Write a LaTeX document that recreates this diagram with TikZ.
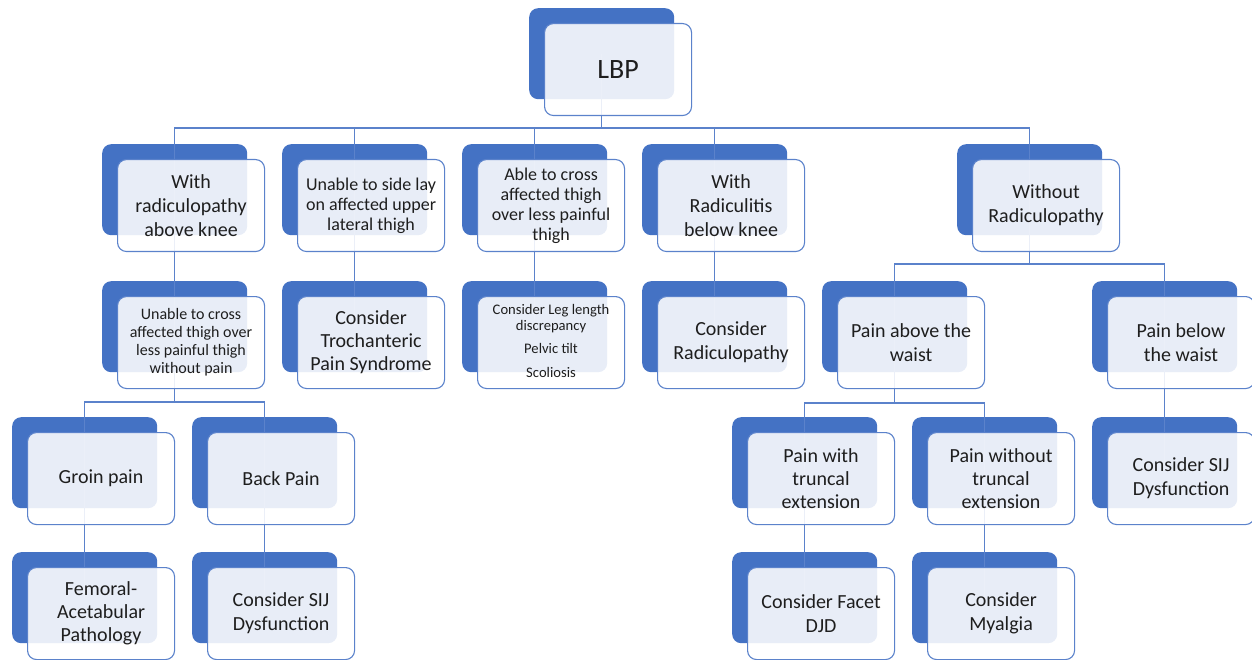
\documentclass[tikz,border=0pt]{standalone}
\usepackage{fontspec}
\setmainfont{Carlito}
\definecolor{bblue}{HTML}{4472C4}
\definecolor{lblue}{HTML}{5B82CB}
\definecolor{txt}{HTML}{1E1E1E}
\pgfdeclarelayer{backl}
\pgfdeclarelayer{connl}
\pgfsetlayers{backl,connl,main}
\tikzset{
  backbox/.style={anchor=north west, fill=bblue, draw=none, rounded corners=9pt,
    minimum width=145pt, minimum height=91pt, inner sep=0pt},
  frontbox/.style={anchor=north west, fill=white, fill opacity=0.88, text opacity=1,
    draw=lblue, line width=1.1pt, rounded corners=9pt, minimum width=147pt,
    minimum height=92pt, inner sep=0pt, align=center, text=txt},
  conn/.style={draw=lblue, line width=1.1pt},
  fT/.style={font=\fontsize{28}{32}\selectfont},
  fA/.style={font=\fontsize{20}{24}\selectfont},
  fAa/.style={font=\fontsize{20}{23}\selectfont},
  fB/.style={font=\fontsize{18}{20}\selectfont},
  fC/.style={font=\fontsize{16}{18}\selectfont},
  fD/.style={font=\fontsize{14.6}{16}\selectfont},
}
\newcommand\boxpair[5]{%
  \begin{pgfonlayer}{backl}\node[backbox] (#1) at (#2,#3) {};\end{pgfonlayer}
  \node[frontbox,#4] (#1f) at ({#2+15},{#3+15}) {#5};}
\begin{document}
\begin{tikzpicture}[x=1pt,y=-1pt]
\useasboundingbox (0,0) rectangle (1252,660);
% level 0
\boxpair{LBP}{529}{8}{fT}{LBP}
% level 1
\boxpair{A1}{102}{144}{fA}{With\\radiculopathy\\above knee}
\boxpair{A2}{282}{144}{fB}{Unable to side lay\\on affected upper\\lateral thigh}
\boxpair{A3}{462}{144}{fB}{Able to cross\\affected thigh\\over less painful\\thigh}
\boxpair{A4}{642}{144}{fA}{With\\Radiculitis\\below knee}
\boxpair{A5}{957}{144}{fA}{Without\\Radiculopathy}
% level 2
\boxpair{B1}{102}{281}{fC}{Unable to cross\\affected thigh over\\less painful thigh\\without pain}
\boxpair{B2}{282}{281}{fAa}{Consider\\Trochanteric\\Pain Syndrome}
\boxpair{B3}{462}{281}{fD}{\raisebox{-6pt}{\begin{tabular}{@{}c@{}}Consider Leg length\\discrepancy\\[7pt]Pelvic tilt\\[8pt]Scoliosis\end{tabular}}}
\boxpair{B4}{642}{281}{fA}{Consider\\Radiculopathy}
\boxpair{B5}{822}{281}{fA}{Pain above the\\waist}
\boxpair{B6}{1092}{281}{fA}{Pain below\\the waist}
% level 3
\boxpair{C1}{12}{417}{fA}{Groin pain}
\boxpair{C2}{192}{417}{fA}{Back Pain}
\boxpair{C3}{732}{417}{fAa}{Pain with\\truncal\\extension}
\boxpair{C4}{912}{417}{fAa}{Pain without\\truncal\\extension}
\boxpair{C5}{1092}{417}{fA}{Consider SIJ\\Dysfunction}
% level 4
\boxpair{D1}{12}{552}{fAa}{Femoral-\\Acetabular\\Pathology}
\boxpair{D2}{192}{552}{fA}{Consider SIJ\\Dysfunction}
\boxpair{D3}{732}{552}{fA}{Consider Facet\\DJD}
\boxpair{D4}{912}{552}{fA}{Consider\\Myalgia}
% connectors
\begin{pgfonlayer}{connl}
\coordinate (bar0) at (0,128);
\coordinate (bar1) at (0,264);
\coordinate (bar2) at (0,402);
\coordinate (bar3) at (0,403);
\draw[conn] (LBP.center) -- (LBP.center |- bar0);
\foreach \c in {A1,A2,A3,A4,A5} \draw[conn] (LBP.center |- bar0) -| (\c.center);
\draw[conn] (A1.center) -- (B1.center);
\draw[conn] (A2.center) -- (B2.center);
\draw[conn] (A3.center) -- (B3.center);
\draw[conn] (A4.center) -- (B4.center);
\draw[conn] (A5.center) -- (A5.center |- bar1);
\foreach \c in {B5,B6} \draw[conn] (A5.center |- bar1) -| (\c.center);
\draw[conn] (B1.center) -- (B1.center |- bar2);
\foreach \c in {C1,C2} \draw[conn] (B1.center |- bar2) -| (\c.center);
\draw[conn] (B5.center) -- (B5.center |- bar3);
\foreach \c in {C3,C4} \draw[conn] (B5.center |- bar3) -| (\c.center);
\draw[conn] (B6.center) -- (C5.center);
\draw[conn] (C1.center) -- (D1.center);
\draw[conn] (C2.center) -- (D2.center);
\draw[conn] (C3.center) -- (D3.center);
\draw[conn] (C4.center) -- (D4.center);
\end{pgfonlayer}
\end{tikzpicture}
\end{document}
